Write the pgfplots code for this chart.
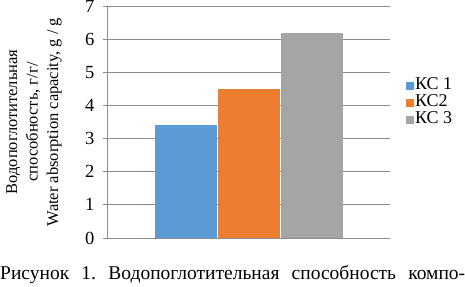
\documentclass[border=0pt]{standalone}
\usepackage{pgfplots}
\pgfplotsset{compat=1.18}
\usepackage{fontspec}
\setmainfont{Liberation Serif}
\definecolor{ks1}{HTML}{5B9BD5}
\definecolor{ks2}{HTML}{ED7D31}
\definecolor{ks3}{HTML}{A5A5A5}
\definecolor{gridc}{HTML}{8C8C8C}
\begin{document}
\begin{tikzpicture}
\useasboundingbox (0pt,0pt) rectangle (465pt,-286pt);
\begin{axis}[
  at={(107pt,-238pt)}, anchor=south west,
  scale only axis, width=283pt, height=232pt,
  xmin=0, xmax=283, ymin=0, ymax=7,
  ytick={0,1,...,7}, xtick=\empty,
  axis x line=bottom, axis y line=left,
  axis line style={gridc, line width=0.8pt, -},
  ymajorgrids, grid style={gridc, line width=0.8pt},
  tick align=outside, major tick length=4pt,
  tick style={gridc, line width=0.8pt},
  /pgf/number format/assume math mode=true,
  yticklabel style={font=\fontsize{18.5}{19}\selectfont, xshift=-5pt},
  ylabel={Водопоглотительная\\способность, г/г/\\Water absorption capacity, g / g},
  ylabel style={at={(axis description cs:-0.258,0.5)}, anchor=center, align=center,
    font=\fontsize{16.5}{20.5}\selectfont},
  ybar, bar shift=0pt, bar width=62,
  legend style={at={(1.056,0.58)}, anchor=west, draw=none, fill=none,
    row sep=0pt, inner sep=0pt, font=\fontsize{18}{18}\selectfont,
    nodes={inner sep=0pt, text height=12pt, text depth=5pt,
      font=\fontsize{18}{18}\selectfont}},
  legend cell align=left,
  legend image code/.code={\fill[#1] (0pt,-4pt) rectangle (8pt,4pt); \path (0pt,0pt) -- (9pt,0pt);},
]
\addplot[fill=ks1, draw=none] coordinates {(79,3.4)};
\addlegendentry{КС 1}
\addplot[fill=ks2, draw=none] coordinates {(142,4.5)};
\addlegendentry{КС2}
\addplot[fill=ks3, draw=none] coordinates {(204.5,6.2)};
\addlegendentry{КС 3}
\end{axis}
\node[anchor=base west, inner sep=0pt, font=\fontsize{19.5}{20}\selectfont] at (0pt,-279pt)
  {\hbox to 465pt{Рисунок\hfill 1.\hfill Водопоглотительная\hfill способность\hfill компо-}};
\end{tikzpicture}
\end{document}
